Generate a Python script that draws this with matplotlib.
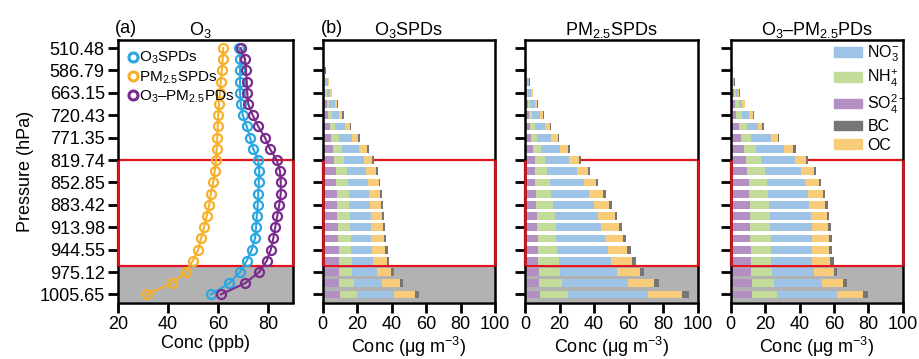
import numpy as np
import matplotlib
matplotlib.use("Agg")
import matplotlib.pyplot as plt
from matplotlib.patches import Rectangle, Patch
from matplotlib.lines import Line2D

plt.rcParams['font.family'] = ['Liberation Sans', 'DejaVu Sans']
plt.rcParams['mathtext.fontset'] = 'custom'
plt.rcParams['mathtext.rm'] = 'Liberation Sans'
plt.rcParams['mathtext.it'] = 'Liberation Sans:italic'

# pressure tick labels (every other model level)
p_labels = ["510.48", "586.79", "663.15", "720.43", "771.35", "819.74", "852.85",
            "883.42", "913.98", "944.55", "975.12", "1005.65"]

# O3 (ppb), 23 levels from top to surface
o3_o3spd = [68.5, 68.8, 68.8, 68.8, 68.8, 69.1, 69.9, 71.5, 72.8, 74.1, 76.1, 76.5,
            76.3, 76.1, 75.9, 75.5, 75.2, 74.8, 73.5, 71.5, 68.8, 64.5, 57.1]
o3_pmspd = [62.1, 61.9, 61.5, 61.1, 60.8, 60.4, 60.1, 59.9, 59.7, 59.5, 59.2, 58.7,
            58.1, 57.1, 56.5, 55.5, 54.4, 53.2, 52.1, 49.9, 47.1, 41.5, 31.5]
o3_cpd = [69.1, 70.8, 71.2, 71.5, 71.7, 72.1, 73.9, 76.1, 78.8, 80.8, 83.5, 84.8,
          85.1, 85.1, 84.5, 83.7, 82.9, 82.1, 81.1, 79.5, 76.5, 70.8, 61.1]

# PM2.5 components (ug m-3) - O3SPDs
so4_b = [0.05, 0.15, 0.5, 1.0, 1.5, 2.5, 2.9, 4.1, 5.0, 6.0, 6.8, 7.5, 7.9, 8.3, 8.5, 8.5, 8.9, 9.1, 9.3, 9.5, 9.5, 9.5, 9.9]
nh4_b = [0.03, 0.1, 0.3, 0.6, 1.0, 1.4, 2.5, 3.1, 4.4, 5.4, 5.8, 6.6, 6.8, 6.8, 6.8, 7.2, 7.1, 7.1, 7.3, 7.3, 7.7, 8.5, 10.0]
no3_b = [0.05, 0.15, 0.5, 1.2, 1.9, 3.1, 4.1, 6.0, 7.7, 9.7, 11.2, 11.2, 11.6, 11.8, 12.3, 12.1, 12.0, 11.8, 11.8, 12.4, 14.3, 16.6, 21.3]
oc_b = [0.03, 0.1, 0.3, 0.6, 1.0, 1.2, 1.9, 2.5, 3.5, 4.6, 4.8, 5.8, 6.2, 6.1, 6.4, 6.8, 7.0, 7.4, 7.7, 8.1, 8.3, 10.0, 12.3]
bc_b = [0.01, 0.02, 0.1, 0.2, 0.2, 0.4, 0.8, 1.0, 0.8, 1.0, 1.4, 0.8, 0.9, 1.2, 1.0, 1.0, 1.3, 1.5, 1.6, 1.3, 1.6, 2.0, 2.3]

# PM2.5SPDs
so4_c = [0.02, 0.1, 0.3, 0.8, 1.2, 1.7, 2.3, 3.1, 3.7, 4.6, 5.6, 5.6, 6.0, 6.2, 6.6, 6.9, 7.1, 7.3, 7.3, 7.7, 7.9, 8.1, 8.5]
nh4_c = [0.02, 0.1, 0.3, 0.6, 0.7, 1.4, 1.9, 2.9, 3.4, 4.9, 5.8, 7.3, 8.3, 9.1, 9.6, 10.3, 10.7, 10.8, 11.4, 11.8, 12.6, 13.5, 16.4]
no3_c = [0.03, 0.15, 0.4, 0.7, 1.8, 2.5, 4.3, 5.4, 8.2, 10.6, 14.1, 17.2, 19.7, 21.8, 23.8, 25.1, 26.4, 28.0, 29.4, 30.5, 33.0, 38.1, 46.3]
oc_c = [0.02, 0.05, 0.2, 0.4, 0.7, 1.3, 1.9, 2.9, 3.8, 4.8, 5.8, 6.4, 7.1, 8.1, 8.6, 9.6, 10.0, 10.7, 11.0, 12.0, 12.9, 14.8, 19.9]
bc_c = [0.01, 0.02, 0.05, 0.2, 0.2, 0.6, 0.4, 0.6, 0.6, 1.0, 1.3, 1.3, 1.2, 1.5, 2.0, 1.6, 2.2, 1.9, 2.1, 2.1, 2.5, 3.1, 3.9]

# O3-PM2.5PDs
so4_d = [0.05, 0.1, 0.4, 1.0, 1.7, 2.7, 3.3, 4.8, 6.2, 7.7, 8.7, 9.7, 10.4, 10.6, 11.0, 11.0, 11.2, 11.4, 11.6, 11.8, 12.0, 12.2, 12.2]
nh4_d = [0.03, 0.1, 0.4, 0.5, 1.2, 1.9, 3.5, 4.7, 5.8, 7.2, 9.1, 10.0, 10.7, 11.1, 11.2, 11.6, 11.6, 11.8, 11.8, 11.8, 12.0, 12.8, 14.7]
no3_d = [0.03, 0.1, 0.3, 0.4, 1.4, 2.2, 3.8, 6.4, 11.6, 15.9, 19.3, 20.9, 22.2, 23.4, 23.6, 24.0, 24.2, 23.8, 23.6, 23.6, 24.7, 27.8, 34.8]
oc_d = [0.02, 0.05, 0.2, 0.3, 0.7, 1.3, 2.4, 2.5, 3.9, 5.4, 6.8, 7.8, 8.0, 8.5, 9.1, 9.3, 9.5, 10.1, 10.1, 10.6, 11.3, 12.6, 15.1]
bc_d = [0.01, 0.02, 0.05, 0.1, 0.2, 0.4, 0.3, 0.7, 0.5, 1.5, 1.0, 1.3, 1.3, 1.4, 1.6, 1.5, 1.7, 1.7, 1.9, 2.0, 1.9, 2.1, 2.9]

c_so4 = "#b48fc4"
c_nh4 = "#c3dc9a"
c_no3 = "#9dc3e6"
c_bc = "#767676"
c_oc = "#f8cc79"
c_gray = "#b2b2b2"
c_red = "#e3141e"

lev = np.arange(len(o3_o3spd))
ylim = (22.72, -0.72)

W, H = 919, 359
fig = plt.figure(figsize=(W / 100, H / 100), dpi=100)

def px_axes(x0, x1, y0=40, y1=302.5):
    return fig.add_axes([x0 / W, (H - y1) / H, (x1 - x0) / W, (y1 - y0) / H])

def style(ax, labels):
    for s in ax.spines.values():
        s.set_linewidth(1.8)
    ax.set_ylim(*ylim)
    ax.set_yticks(lev[::2])
    ax.set_yticklabels(p_labels if labels else [])
    ax.tick_params(axis='both', direction='out', width=2, labelsize=13)
    ax.tick_params(axis='y', length=7.5, pad=2)
    ax.tick_params(axis='x', length=7, pad=3)
    # shaded surface layer and highlighted box
    ax.axhspan(19.5, ylim[0], color=c_gray, zorder=0, lw=0)
    tr = ax.get_yaxis_transform()
    ax.add_patch(Rectangle((0, 10.0), 1, 9.5, transform=tr,
                           fill=False, ec=c_red, lw=1.6, zorder=1.5, clip_on=False))
    for xx in (0, 1):
        ax.plot([xx, xx], [10.0, 19.5], transform=tr, color=c_red, lw=1.8,
                zorder=3, clip_on=False, solid_capstyle='butt')

# ---- panel (a)
ax = px_axes(118, 293)
style(ax, True)
ax.set_xlim(20, 90)
ax.set_xticks([20, 40, 60, 80])
mk = dict(marker='o', ms=6.5, mfc='none', mew=1.6, lw=1.5, zorder=4)
ax.plot(o3_pmspd, lev, color="#f6b12c", **mk)
ax.plot(o3_o3spd, lev, color="#2aa7e0", **mk)
ax.plot(o3_cpd, lev, color="#7a2c8c", **mk)
hand = [Line2D([], [], ls='none', marker='o', ms=6.5, mfc='none', mew=2.2, color=c)
        for c in ["#2aa7e0", "#f6b12c", "#7a2c8c"]]
ax.legend(hand, ["O$_3$SPDs", "PM$_{2.5}$SPDs", "O$_3$–PM$_{2.5}$PDs"], loc='upper left',
          frameon=False, fontsize=11, handlelength=0.6, handletextpad=0.15,
          borderaxespad=0.35, borderpad=0.3, labelspacing=0.2)
ax.set_xlabel("Conc (ppb)", fontsize=13, labelpad=1)
ax.set_ylabel("Pressure (hPa)", fontsize=13, labelpad=4)
ax.set_title("O$_3$", fontsize=13, pad=2, x=0.47)
ax.text(-0.02, 1.01, "(a)", transform=ax.transAxes, fontsize=13, ha='left', va='bottom')

# ---- panels (b)-(d)
panels = [
    (322.7, 495, "O$_3$SPDs", "(b)", [so4_b, nh4_b, no3_b, oc_b, bc_b]),
    (525, 697.7, "PM$_{2.5}$SPDs", None, [so4_c, nh4_c, no3_c, oc_c, bc_c]),
    (730.7, 902.7, "O$_3$–PM$_{2.5}$PDs", None, [so4_d, nh4_d, no3_d, oc_d, bc_d]),
]
cols = [c_so4, c_nh4, c_no3, c_oc, c_bc]
for x0, x1, title, tag, comps in panels:
    ax = px_axes(x0, x1)
    style(ax, False)
    ax.set_xlim(0, 100)
    ax.set_xticks([0, 20, 40, 60, 80, 100])
    left = np.zeros(len(lev))
    for vals, c in zip(comps, cols):
        ax.barh(lev, vals, left=left, height=0.7, color=c, lw=0, zorder=2)
        left = left + np.array(vals)
    ax.set_xlabel("Conc (μg m$^{-3}$)", fontsize=13, labelpad=1)
    ax.set_title(title, fontsize=13, pad=2)
    if tag:
        ax.text(-0.01, 1.01, tag, transform=ax.transAxes, fontsize=13, ha='left', va='bottom')
    last = ax

leg_h = [Patch(color=c_no3), Patch(color=c_nh4), Patch(color=c_so4), Patch(color=c_bc), Patch(color=c_oc)]
last.legend(leg_h, ["NO$_3^{-}$", "NH$_4^{+}$", "SO$_4^{2-}$", "BC", "OC"], loc='upper left',
            bbox_to_anchor=(0.6, 0.985), frameon=False, fontsize=11.5, handlelength=1.75,
            handleheight=0.55, handletextpad=0.35, labelspacing=0.22, borderpad=0,
            borderaxespad=0)

fig.savefig("out.png", dpi=100)
